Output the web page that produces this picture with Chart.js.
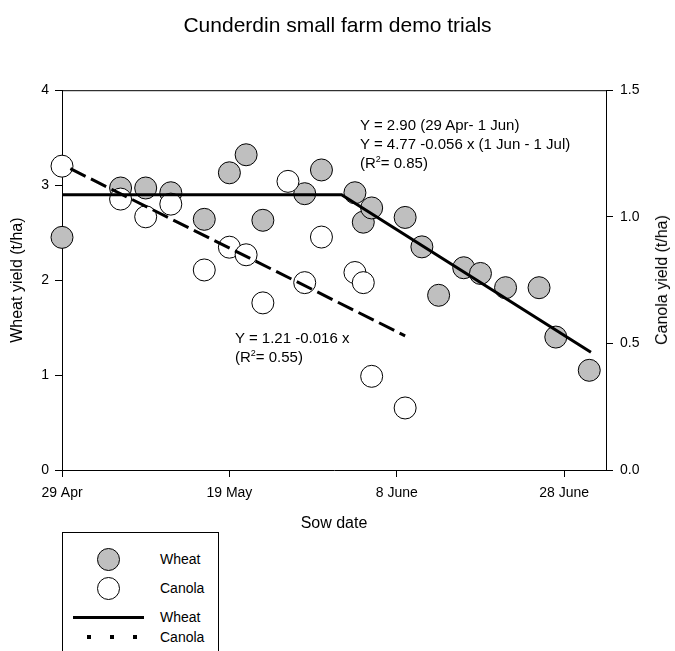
<!DOCTYPE html>
<html>
<head>
<meta charset="utf-8">
<script src="https://cdn.jsdelivr.net/npm/chart.js@4.4.1/dist/chart.umd.min.js"></script>
<style>
  html, body { margin: 0; padding: 0; background: #fff; }
  body { width: 675px; height: 651px; position: relative; overflow: hidden;
         font-family: 'Liberation Sans', Arial, sans-serif; color: #000; }
  #chart { position: absolute; left: 0; top: 0; }
  .note { position: absolute; font-size: 15px; line-height: 19px; white-space: nowrap; }
  .note sup { font-size: 9px; line-height: 0; vertical-align: 6px; }
  #rightTitle { position: absolute; left: 662px; top: 280px; font-size: 16px; white-space: nowrap;
                transform: translate(-50%, -50%) rotate(-90deg); }
  #legend { position: absolute; left: 62px; top: 532px; width: 155px; height: 140px;
            border: 1px solid #000; background: #fff; }
  #legend .dot { position: absolute; width: 21px; height: 21px; border: 1px solid #000; border-radius: 50%; }
  #legend .lbl { position: absolute; left: 97px; font-size: 14px; line-height: 16px; transform: translateY(-50%); }
  #legend .solid { position: absolute; left: 10px; top: 83px; width: 71px; height: 3px; background: #000; }
  #legend .dotted { position: absolute; left: 24px; top: 102px; width: 51px; height: 4px;
                    background: repeating-linear-gradient(to right, #000 0 4px, transparent 4px 23px); }
</style>
</head>
<body>
<canvas id="chart" width="675" height="651"></canvas>

<div class="note" style="left:360px; top:115px;">
  Y = 2.90 (29 Apr- 1 Jun)<br>
  Y = 4.77 -0.056 x (1 Jun - 1 Jul)<br>
  (R<sup>2</sup>= 0.85)
</div>
<div class="note" style="left:235px; top:328px;">
  Y = 1.21 -0.016 x<br>
  (R<sup>2</sup>= 0.55)
</div>
<div id="rightTitle">Canola yield (t/ha)</div>

<div id="legend">
  <div class="dot" style="left:34px; top:15px; background:#bfbfbf;"></div>
  <div class="lbl" style="top:26px;">Wheat</div>
  <div class="dot" style="left:34px; top:44px; background:#fff;"></div>
  <div class="lbl" style="top:55px;">Canola</div>
  <div class="solid"></div>
  <div class="lbl" style="top:84px;">Wheat</div>
  <div class="dotted"></div>
  <div class="lbl" style="top:104px;">Canola</div>
</div>

<script>
// days after 29 April
const wheatDays = [0, 7, 10, 13, 17, 20, 22, 24, 29, 31, 35, 36, 37, 41, 43, 45, 48, 50, 53, 57, 59, 63];
const wheatYield = [2.45, 2.97, 2.97, 2.92, 2.64, 3.13, 3.32, 2.63, 2.91, 3.16, 2.92, 2.61, 2.76, 2.66, 2.35, 1.84, 2.13, 2.07, 1.92, 1.92, 1.40, 1.05];
const canolaDays = [0, 7, 10, 13, 17, 20, 22, 24, 27, 29, 31, 35, 36, 37, 41];
const canolaYield = [1.20, 1.07, 1.00, 1.05, 0.79, 0.88, 0.85, 0.66, 1.14, 0.74, 0.92, 0.78, 0.74, 0.37, 0.245];

// fitted lines
const wheatFitDays = [0, 33.4, 63.2];
const wheatFitYield = [2.90, 2.90, 1.24];
const canolaFitDays = [1, 41];
const canolaFitYield = [1.19, 0.53];

const xTickDays = [0, 20, 40, 60];
const xTickLabels = ['29 Apr', '19 May', '8 June', '28 June'];

const toPoints = (xs, ys) => xs.map((x, i) => ({ x: x, y: ys[i] }));

const FONT = "'Liberation Sans', Arial, sans-serif";

// top edge of the plot frame
const frameTop = {
  id: 'frameTop',
  beforeDatasetsDraw(chart) {
    const { ctx, chartArea } = chart;
    ctx.save();
    ctx.strokeStyle = '#000';
    ctx.lineWidth = 1;
    ctx.beginPath();
    ctx.moveTo(chartArea.left, chartArea.top + 0.5);
    ctx.lineTo(chartArea.right, chartArea.top + 0.5);
    ctx.stroke();
    ctx.restore();
  }
};

const axisGrid = { display: true, drawOnChartArea: false, drawTicks: true, tickLength: 7, color: '#000', tickColor: '#000' };
const axisBorder = { display: true, color: '#000', width: 1 };

new Chart(document.getElementById('chart'), {
  type: 'scatter',
  data: {
    datasets: [
      {
        label: 'Wheat fit',
        data: toPoints(wheatFitDays, wheatFitYield),
        showLine: true,
        borderColor: '#000',
        borderWidth: 3,
        pointRadius: 0,
        yAxisID: 'y'
      },
      {
        label: 'Canola fit',
        data: toPoints(canolaFitDays, canolaFitYield),
        showLine: true,
        borderColor: '#000',
        borderWidth: 3,
        borderDash: [17, 6],
        pointRadius: 0,
        yAxisID: 'y2'
      },
      {
        label: 'Canola',
        data: toPoints(canolaDays, canolaYield),
        backgroundColor: '#fff',
        borderColor: '#000',
        borderWidth: 1,
        pointRadius: 11,
        clip: false,
        yAxisID: 'y2'
      },
      {
        label: 'Wheat',
        data: toPoints(wheatDays, wheatYield),
        backgroundColor: '#bfbfbf',
        borderColor: '#000',
        borderWidth: 1,
        pointRadius: 11,
        clip: false,
        yAxisID: 'y'
      }
    ]
  },
  options: {
    responsive: false,
    animation: false,
    events: [],
    layout: { padding: 0, autoPadding: false },
    plugins: {
      legend: { display: false },
      tooltip: { enabled: false },
      title: {
        display: true,
        text: 'Cunderdin small farm demo trials',
        color: '#000',
        font: { family: FONT, size: 21, weight: 'normal' },
        padding: { top: 14, bottom: 51 }
      }
    },
    scales: {
      x: {
        type: 'linear',
        position: 'bottom',
        min: 0,
        max: 65,
        afterBuildTicks: scale => { scale.ticks = xTickDays.map(v => ({ value: v })); },
        afterFit: scale => { scale.height = 181; },
        ticks: {
          color: '#000',
          font: { family: FONT, size: 14 },
          padding: 8,
          maxRotation: 0,
          callback: v => xTickLabels[xTickDays.indexOf(v)]
        },
        grid: axisGrid,
        border: axisBorder,
        title: {
          display: true,
          text: 'Sow date',
          color: '#000',
          font: { family: FONT, size: 16 },
          padding: { top: 0, bottom: 118 }
        }
      },
      y: {
        position: 'left',
        min: 0,
        max: 4,
        afterFit: scale => { scale.width = 62; },
        ticks: { stepSize: 1, color: '#000', font: { family: FONT, size: 14 }, padding: 6 },
        grid: axisGrid,
        border: axisBorder,
        title: {
          display: true,
          text: 'Wheat yield (t/ha)',
          color: '#000',
          font: { family: FONT, size: 16 },
          padding: { top: 8, bottom: 0 }
        }
      },
      y2: {
        position: 'right',
        min: 0,
        max: 1.5,
        afterFit: scale => { scale.width = 69; },
        ticks: {
          stepSize: 0.5,
          color: '#000',
          font: { family: FONT, size: 14 },
          padding: 7,
          callback: v => v.toFixed(1)
        },
        grid: axisGrid,
        border: axisBorder
      }
    }
  },
  plugins: [frameTop]
});
</script>
</body>
</html>
